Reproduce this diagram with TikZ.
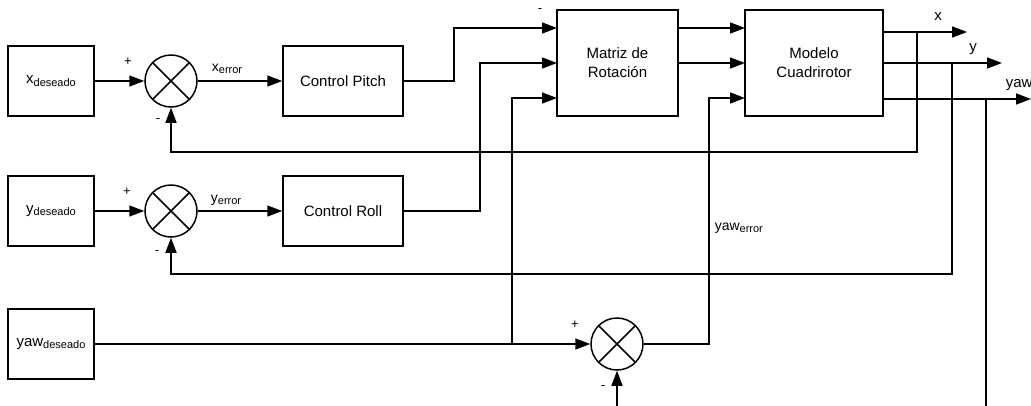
\documentclass[tikz,border=0pt]{standalone}
\usepackage{fontspec}
\setmainfont{Liberation Sans}
\usetikzlibrary{arrows.meta,calc}
\newcommand{\lbl}[2]{{\fontsize{15}{18}\selectfont #1}{\fontsize{11}{13}\selectfont\raisebox{-2.5pt}{#2}}}
\newcommand{\lbls}[2]{{\fontsize{14}{17}\selectfont #1}{\fontsize{11}{13}\selectfont\raisebox{-2.5pt}{#2}}}
\begin{document}
\begin{tikzpicture}[x=1pt,y=-1pt, line width=1.5pt,
 blk/.style={draw, inner sep=0pt, align=center, font=\fontsize{15}{19}\selectfont},
 sumnode/.style={draw, circle, minimum size=52pt, inner sep=0pt,
   path picture={\draw[line width=1.5pt] (path picture bounding box.north west) -- (path picture bounding box.south east)
     (path picture bounding box.north east) -- (path picture bounding box.south west);}},
 arr/.style={-{Triangle[length=15pt,width=11pt]}},
 sgn/.style={font=\fontsize{13}{15}\selectfont, inner sep=0pt},
 lab/.style={font=\fontsize{15}{18}\selectfont, inner sep=0pt}]
\clip (0,0) rectangle (1031,405);
\fill[white] (0,0) rectangle (1031,405);

% blocks
\node[blk,minimum width=86,minimum height=70] (xd) at (51,81) {\lbl{x}{deseado}};
\node[sumnode] (s1) at (171,81) {};
\node[blk,minimum width=120,minimum height=70] (cp) at (343,81) {Control Pitch};
\node[blk,minimum width=86,minimum height=70] (yd) at (51,211) {\lbl{y}{deseado}};
\node[sumnode] (s2) at (171,211) {};
\node[blk,minimum width=120,minimum height=70] (cr) at (343,211) {Control Roll};
\node[blk,minimum width=86,minimum height=70] (wd) at (51,344) {\lbl{yaw}{deseado}};
\node[sumnode] (s3) at (617,344) {};
\node[blk,minimum width=121,minimum height=106] (mr) at (617.5,63) {Matriz de\\Rotación};
\node[blk,minimum width=138,minimum height=106] (md) at (814,63) {Modelo\\Cuadrirotor};

% ports
\coordinate (mr1) at (557,28);
\coordinate (mr2) at (557,63);
\coordinate (mr3) at (557,98);
\coordinate (md1) at (745,28);
\coordinate (md2) at (745,63);
\coordinate (md3) at (745,98);
\coordinate (j3) at (512,344);
\coordinate (ox) at (967,32);
\coordinate (oy) at (1002,63);
\coordinate (ow) at (1031,99);
\coordinate (fx) at (917,32);
\coordinate (fy) at (952,63);
\coordinate (fw) at (986,99);

% forward paths
\draw[arr] (xd) -- (s1);
\draw[arr] (s1) -- (cp);
\draw[arr] (cp.east) -| (454,28) -- (mr1);
\draw[arr] (yd) -- (s2);
\draw[arr] (s2) -- (cr);
\draw[arr] (cr.east) -| (480,63) -- (mr2);
\draw[arr] (wd) -- (s3);
\draw[arr] (j3) |- (mr3);
\draw[arr] (mr.east |- mr1) -- (md1);
\draw[arr] (mr.east |- mr2) -- (md2);
\draw[arr] (s3.east) -| (709,98) -- (md3);

% outputs
\draw[arr] (md.east |- ox) -- (ox);
\draw[arr] (md.east |- oy) -- (oy);
\draw[arr] (md.east |- ow) -- (ow);

% feedback
\draw[arr] (fx) -- (917,152) -| (s1.south);
\draw[arr] (fy) -- (952,274) -| (s2.south);
\draw[arr] (fw) -- (986,430) -| (s3.south);

% labels
\node[sgn] (p1) at (128,62) {+};
\node[sgn] (m1) at (158,121) {-};
\node[sgn] (p2) at (127,192) {+};
\node[sgn] (m2) at (157,253) {-};
\node[sgn] (p3) at (575,325) {+};
\node[sgn] (m3) at (603,388) {-};
\node[sgn] (m0) at (540,11) {-};
\node[lab] (le1) at (227,69) {\lbls{x}{error}};
\node[lab] (le2) at (226,200) {\lbls{y}{error}};
\node[lab,anchor=west] (le3) at (714,228) {\lbls{yaw}{error}};
\node[lab] (lx) at (938,17) {x};
\node[lab] (ly) at (973,49) {y};
\node[lab,anchor=west] (lw) at (1005,85) {yaw};
\end{tikzpicture}
\end{document}
